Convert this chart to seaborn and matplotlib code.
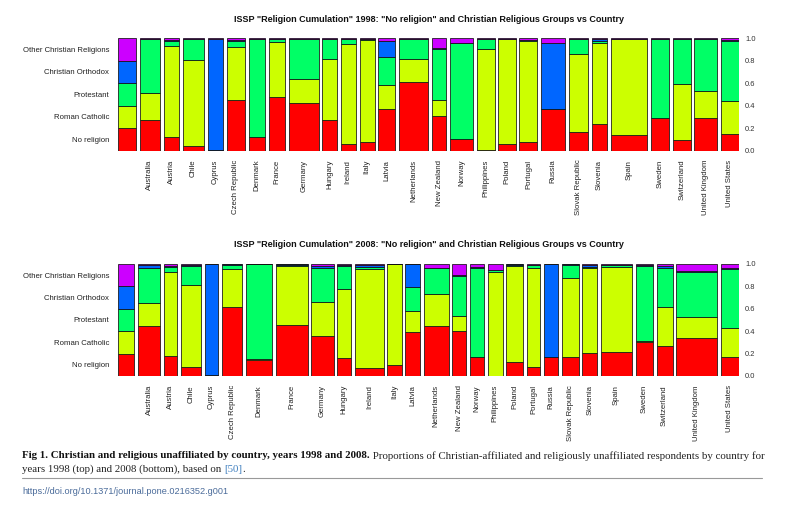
import numpy as np
import seaborn as sns
import matplotlib.pyplot as plt

sns.set_style("white")
plt.rcParams['font.family'] = ['Liberation Sans', 'DejaVu Sans']

countries = ["Australia", "Austria", "Chile", "Cyprus", "Czech Republic", "Denmark",
             "France", "Germany", "Hungary", "Ireland", "Italy", "Latvia", "Netherlands",
             "New Zealand", "Norway", "Philippines", "Poland", "Portugal", "Russia",
             "Slovak Republic", "Slovenia", "Spain", "Sweden", "Switzerland",
             "United Kingdom", "United States"]
groups = ["No religion", "Roman Catholic", "Protestant", "Christian Orthodox",
          "Other Christian Religions"]
colors = ["#FF0000", "#CCFF00", "#00FF66", "#0066FF", "#CC00FF"]

# relative column widths (sample sizes)
width_1998 = [20, 15.6, 21, 15.3, 17.7, 16.5, 16.4, 29.5, 14.5, 15, 15, 16.7, 29.3,
              14.3, 22.8, 17.7, 17.3, 18, 23.5, 19.5, 15, 36.5, 17.9, 17.7, 22.5, 18]
width_2008 = [21.7, 13.4, 20, 13.6, 20, 26, 31.7, 22, 14, 28.3, 14.3, 14.4, 25,
              13.6, 14, 15, 16.7, 13.4, 14, 16.7, 14.6, 31.3, 16.7, 16, 40.7, 17.6]
legend_width = [17.7, 16]

# proportions: no religion, catholic, protestant, orthodox, other christian
no_rel_1998 = [0.273, 0.122, 0.045, 0.005, 0.451, 0.119, 0.475, 0.427, 0.273, 0.056, 0.077,
               0.371, 0.611, 0.309, 0.104, 0.003, 0.062, 0.077, 0.368, 0.163, 0.240, 0.139,
               0.291, 0.095, 0.294, 0.148]
catholic_1998 = [0.237, 0.807, 0.759, 0.0, 0.469, 0.002, 0.495, 0.208, 0.546, 0.894, 0.908,
                 0.217, 0.202, 0.142, 0.002, 0.902, 0.929, 0.902, 0.004, 0.695, 0.721, 0.855,
                 0.002, 0.495, 0.240, 0.291]
protestant_1998 = [0.484, 0.047, 0.190, 0.0, 0.059, 0.876, 0.020, 0.359, 0.172, 0.040, 0.005,
                   0.243, 0.184, 0.454, 0.855, 0.089, 0.004, 0.006, 0.003, 0.136, 0.015, 0.002,
                   0.701, 0.401, 0.460, 0.537]
orthodox_1998 = [0.003, 0.012, 0.003, 0.990, 0.008, 0.001, 0.004, 0.003, 0.004, 0.005, 0.005,
                 0.148, 0.001, 0.005, 0.001, 0.003, 0.002, 0.003, 0.580, 0.003, 0.014, 0.002,
                 0.003, 0.004, 0.003, 0.010]
other_1998 = [0.003, 0.012, 0.003, 0.005, 0.013, 0.002, 0.006, 0.003, 0.005, 0.005, 0.005,
              0.021, 0.002, 0.090, 0.038, 0.003, 0.003, 0.012, 0.045, 0.003, 0.010, 0.002,
              0.003, 0.005, 0.003, 0.014]

no_rel_2008 = [0.446, 0.179, 0.083, 0.012, 0.613, 0.146, 0.458, 0.357, 0.161, 0.068, 0.098,
               0.393, 0.443, 0.399, 0.167, 0.001, 0.122, 0.080, 0.167, 0.167, 0.205, 0.217,
               0.307, 0.268, 0.342, 0.167]
catholic_2008 = [0.209, 0.753, 0.732, 0.0, 0.339, 0.002, 0.524, 0.301, 0.613, 0.884, 0.899,
                 0.190, 0.286, 0.134, 0.002, 0.931, 0.860, 0.887, 0.005, 0.711, 0.756, 0.759,
                 0.002, 0.351, 0.188, 0.259]
protestant_2008 = [0.312, 0.038, 0.167, 0.0, 0.043, 0.849, 0.012, 0.309, 0.208, 0.024, 0.001,
                   0.215, 0.232, 0.363, 0.798, 0.014, 0.011, 0.024, 0.002, 0.117, 0.015, 0.014,
                   0.676, 0.348, 0.402, 0.526]
orthodox_2008 = [0.024, 0.015, 0.006, 0.988, 0.003, 0.001, 0.003, 0.013, 0.008, 0.012, 0.001,
                 0.200, 0.004, 0.004, 0.003, 0.002, 0.003, 0.003, 0.826, 0.002, 0.019, 0.005,
                 0.005, 0.013, 0.002, 0.008]
other_2008 = [0.009, 0.015, 0.012, 0.0, 0.002, 0.002, 0.003, 0.020, 0.010, 0.012, 0.001,
              0.002, 0.035, 0.100, 0.030, 0.052, 0.004, 0.006, 0.0, 0.003, 0.005, 0.005,
              0.010, 0.020, 0.066, 0.040]

GAP = 3.7


def mosaic(ax, year, widths, leg_w, shares):
    shares = np.array(shares, dtype=float).T
    shares = shares / shares.sum(axis=1, keepdims=True)
    legend_shares = np.full((1, 5), 0.2)
    allw = np.r_[leg_w, widths]
    alls = np.vstack([legend_shares, shares])
    lefts = np.r_[0, np.cumsum(allw[:-1] + GAP)]
    bottoms = np.zeros(len(allw))
    for k in range(5):
        ax.bar(lefts, alls[:, k], width=allw, bottom=bottoms, align="edge",
               color=colors[k], edgecolor="#111111", linewidth=0.55)
        bottoms += alls[:, k]
    ax.set_xlim(0, lefts[-1] + allw[-1])
    ax.set_ylim(0, 1)
    for s in ax.spines.values():
        s.set_visible(False)
    ax.set_xticks(lefts[1:] + allw[1:] / 2)
    ax.set_xticklabels(countries, rotation=90, fontsize=5.6, color="#222222")
    ax.set_yticks([0.1, 0.3, 0.5, 0.7, 0.9])
    ax.set_yticklabels(groups, fontsize=5.6, color="#222222")
    ax.tick_params(axis="both", length=0, pad=6.5)
    ax2 = ax.twinx()
    ax2.set_ylim(0, 1)
    ax2.set_yticks([0, 0.2, 0.4, 0.6, 0.8, 1.0])
    ax2.set_yticklabels(["0.0", "0.2", "0.4", "0.6", "0.8", "1.0"], fontsize=5.4, color="#333333")
    ax2.tick_params(length=0, pad=4.5)
    for s in ax2.spines.values():
        s.set_visible(False)
    ax.set_title('ISSP "Religion Cumulation" %d: "No religion" and Christian Religious Groups vs Country' % year,
                 fontsize=6.5, fontweight="bold", pad=12, color="#111111")


fig = plt.figure(figsize=(8, 5.07), dpi=100)
ax_top = fig.add_axes([0.1479, 0.7028, 0.7755, 0.2217])
ax_bot = fig.add_axes([0.1479, 0.2584, 0.7755, 0.2209])
mosaic(ax_top, 1998, width_1998, legend_width[0],
       [no_rel_1998, catholic_1998, protestant_1998, orthodox_1998, other_1998])
mosaic(ax_bot, 2008, width_2008, legend_width[1],
       [no_rel_2008, catholic_2008, protestant_2008, orthodox_2008, other_2008])

# caption
renderer = fig.canvas.get_renderer()
W, H = 800.0, 507.0


def run(x, y, pieces):
    for txt, kw in pieces:
        t = fig.text(x / W, 1 - y / H, txt, va="center", ha="left",
                     family=["Liberation Serif", "DejaVu Serif"], fontsize=7.8, **kw)
        x = t.get_window_extent(renderer).x1


run(22, 456, [("Fig 1. Christian and religious unaffiliated by country, years 1998 and 2008.",
               dict(fontweight="bold", color="#111111")),
              (" Proportions of Christian-affiliated and religiously unaffiliated respondents by country for",
               dict(color="#222222"))])
run(22, 469, [("years 1998 (top) and 2008 (bottom), based on ", dict(color="#222222")),
              ("[50]", dict(color="#3f7fbf")),
              (".", dict(color="#222222"))])
fig.add_artist(plt.Line2D([22 / W, 762 / W], [1 - 478 / H, 1 - 478 / H], color="#999999", lw=0.8))
fig.text(22 / W, 1 - 492 / H, "https://doi.org/10.1371/journal.pone.0216352.g001",
         fontsize=6.6, color="#4a6b9a", va="center", ha="left")

fig.savefig("out.png", dpi=100, facecolor="white")
